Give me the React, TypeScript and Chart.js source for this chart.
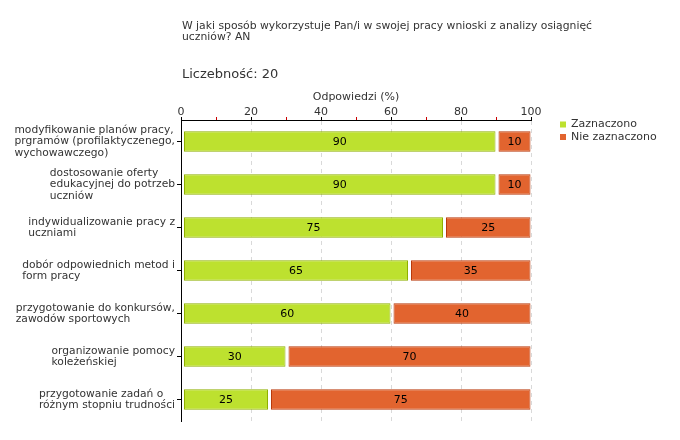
import React, { useEffect, useRef } from 'react';
import { Chart, registerables } from 'chart.js';

Chart.register(...registerables);

const categories: string[][] = [
  ['modyfikowanie planów pracy,', 'prgramów (profilaktyczenego,', 'wychowawczego)'],
  ['dostosowanie oferty', 'edukacyjnej do potrzeb', 'uczniów'],
  ['indywidualizowanie pracy z', 'uczniami'],
  ['dobór odpowiednich metod i', 'form pracy'],
  ['przygotowanie do konkursów,', 'zawodów sportowych'],
  ['organizowanie pomocy', 'koleżeńskiej'],
  ['przygotowanie zadań o', 'różnym stopniu trudności'],
];
const zaznaczono: number[] = [90, 90, 75, 65, 60, 30, 25];
const nieZaznaczono: number[] = [10, 10, 25, 35, 40, 70, 75];
const seriesNames: string[] = ['Zaznaczono', 'Nie zaznaczono'];
const titleLines: string[] = [
  'W jaki sposób wykorzystuje Pan/i w swojej pracy wnioski z analizy osiągnięć',
  'uczniów? AN',
];
const countLabel = 'Liczebność: 20';
const axisTitle = 'Odpowiedzi (%)';

const FONT = "'DejaVu Sans', Verdana, sans-serif";
const TEXT = '#333333';
const fills = ['#bde12f', '#e2642f'];
const borders = ['#8fb000', '#b83a0c'];

const insetPlugin = {
  id: 'segmentInset',
  afterDatasetsUpdate(chart: any) {
    chart.data.datasets.forEach((_d: any, i: number) => {
      const meta = chart.getDatasetMeta(i);
      meta.data.forEach((el: any) => {
        el.base = el.base + 2.5;
        el.x = el.x - 0.5;
      });
    });
  },
};

const valueLabelPlugin = {
  id: 'valueLabels',
  afterDatasetsDraw(chart: any) {
    const ctx = chart.ctx;
    ctx.save();
    ctx.font = `11px ${FONT}`;
    ctx.fillStyle = '#000';
    ctx.textAlign = 'center';
    ctx.textBaseline = 'middle';
    chart.data.datasets.forEach((ds: any, i: number) => {
      const meta = chart.getDatasetMeta(i);
      meta.data.forEach((el: any, j: number) => {
        const p = el.getCenterPoint();
        ctx.fillText(String(ds.data[j]), p.x, p.y + 0.5);
      });
    });
    ctx.restore();
  },
};

const categoryLabelPlugin = {
  id: 'categoryLabels',
  afterDraw(chart: any) {
    const ctx = chart.ctx;
    const yScale = chart.scales.y;
    const left = chart.chartArea.left;
    ctx.save();
    ctx.font = `10.7px ${FONT}`;
    ctx.fillStyle = TEXT;
    ctx.textAlign = 'left';
    ctx.textBaseline = 'middle';
    const lh = 11.5;
    categories.forEach((lines, i) => {
      const yc = yScale.getPixelForValue(i);
      const maxW = Math.max(...lines.map((l) => ctx.measureText(l).width));
      const x = left - 6 - maxW;
      const y0 = yc - ((lines.length - 1) * lh) / 2;
      lines.forEach((l, k) => ctx.fillText(l, x, y0 + k * lh));
    });
    ctx.restore();
  },
};

const headerPlugin = {
  id: 'header',
  afterDraw(chart: any) {
    const ctx = chart.ctx;
    const x = chart.chartArea.left + 1;
    ctx.save();
    ctx.fillStyle = TEXT;
    ctx.textAlign = 'left';
    ctx.textBaseline = 'middle';
    ctx.font = `10.8px ${FONT}`;
    titleLines.forEach((l, k) => ctx.fillText(l, x, 26 + k * 11.5));
    ctx.font = `13px ${FONT}`;
    ctx.fillText(countLabel, x, 75);
    ctx.restore();
  },
};

const legendPlugin = {
  id: 'sideLegend',
  afterDraw(chart: any) {
    const ctx = chart.ctx;
    const x0 = chart.chartArea.right + 29;
    const y0 = chart.chartArea.top + 4.5;
    ctx.save();
    ctx.font = `11px ${FONT}`;
    ctx.textAlign = 'left';
    ctx.textBaseline = 'middle';
    chart.data.datasets.forEach((ds: any, i: number) => {
      const y = y0 + i * 12.5;
      ctx.fillStyle = ds.backgroundColor;
      ctx.fillRect(x0, y - 3, 6, 6);
      ctx.fillStyle = TEXT;
      ctx.fillText(ds.label, x0 + 11, y);
    });
    ctx.restore();
  },
};

export default function App() {
  const ref = useRef<HTMLCanvasElement | null>(null);

  useEffect(() => {
    if (!ref.current) return;
    const chart = new Chart(ref.current, {
      type: 'bar',
      data: {
        labels: categories.map((c) => c.join(' ')),
        datasets: [
          {
            label: seriesNames[0],
            data: zaznaczono,
            backgroundColor: fills[0],
            borderColor: borders[0],
            borderWidth: 1,
            borderSkipped: false,
          },
          {
            label: seriesNames[1],
            data: nieZaznaczono,
            backgroundColor: fills[1],
            borderColor: borders[1],
            borderWidth: 1,
            borderSkipped: false,
          },
        ],
      },
      options: {
        indexAxis: 'y',
        animation: false,
        responsive: true,
        maintainAspectRatio: false,
        layout: { padding: { left: 177, right: 149, top: 82.8, bottom: 19 } },
        datasets: {
          bar: { categoryPercentage: 1, barPercentage: 0.48, inflateAmount: 0 },
        },
        plugins: {
          legend: { display: false },
          tooltip: { enabled: false },
          title: { display: false },
        },
        scales: {
          x: {
            type: 'linear',
            position: 'top',
            stacked: true,
            min: 0,
            max: 100,
            title: {
              display: true,
              text: axisTitle,
              color: TEXT,
              font: { family: FONT, size: 11, lineHeight: 1.2 },
              padding: { top: 7.6, bottom: 4.2 },
            },
            ticks: {
              stepSize: 10,
              autoSkip: false,
              maxRotation: 0,
              padding: -2,
              color: TEXT,
              font: { family: FONT, size: 11, lineHeight: 1.2 },
              callback: (v: any) => (Number(v) % 20 === 0 ? String(v) : ''),
            },
            grid: {
              drawTicks: true,
              tickLength: 3,
              color: (c: any) => {
                const v = c.tick ? c.tick.value : 0;
                return v !== 0 && v % 20 === 0 ? '#d9d9d9' : 'rgba(0,0,0,0)';
              },
              tickColor: (c: any) => {
                const v = c.tick ? c.tick.value : 0;
                return v % 20 === 0 ? '#000000' : '#cc0000';
              },
              lineWidth: 1,
            },
            border: { display: true, color: '#000', width: 1, dash: [4, 4] },
          },
          y: {
            type: 'category',
            position: 'left',
            stacked: true,
            offset: true,
            ticks: { display: false },
            grid: {
              offset: false,
              drawOnChartArea: false,
              drawTicks: true,
              tickLength: 4,
              tickColor: '#000',
            },
            border: { display: true, color: '#000', width: 1 },
          },
        },
      },
      plugins: [insetPlugin, valueLabelPlugin, categoryLabelPlugin, headerPlugin, legendPlugin],
    } as any);
    return () => chart.destroy();
  }, []);

  return (
    <div style={{ position: 'fixed', left: 0, top: 0, width: 680, height: 440, background: '#fff' }}>
      <canvas ref={ref} />
    </div>
  );
}
